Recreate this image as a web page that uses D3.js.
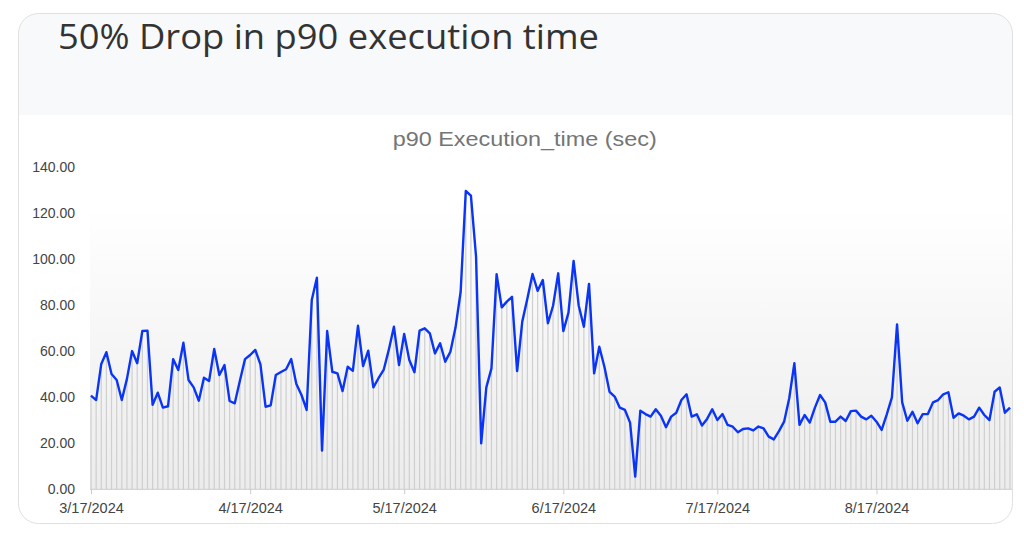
<!DOCTYPE html>
<html>
<head>
<meta charset="utf-8">
<script src="https://cdn.jsdelivr.net/npm/d3@7"></script>
<style>
  html, body { margin: 0; padding: 0; background: #ffffff; }
  svg { display: block; }
</style>
</head>
<body>
<svg id="chart" width="1024" height="534"></svg>
<script>
// daily p90 execution time (sec), 3/17/2024 .. 9/12/2024
var startDay = "2024-03-17"
var execTime = [
  40.7, 38.8, 54.5, 59.6, 50.1, 47.5, 38.8, 48.0, 60.1, 54.8,
  68.8, 69.0, 36.7, 42.0, 35.5, 36.1, 56.6, 51.9, 63.7, 47.5,
  44.3, 38.5, 48.5, 47.1, 61.0, 49.7, 54.0, 38.4, 37.4, 47.2,
  56.6, 58.4, 60.6, 54.3, 35.9, 36.5, 49.7, 51.0, 52.2, 56.6,
  45.8, 41.0, 34.5, 82.3, 92.0, 16.8, 68.8, 51.1, 50.4, 42.7,
  53.3, 51.5, 71.1, 53.6, 60.3, 44.3, 48.3, 51.9, 60.6, 70.7,
  54.0, 67.5, 56.2, 50.9, 69.0, 70.0, 67.8, 59.1, 63.5, 55.5,
  59.8, 70.3, 85.9, 129.7, 127.7, 101.1, 20.0, 44.3, 52.6, 93.5,
  79.1, 81.6, 83.7, 51.4, 72.9, 83.0, 93.6, 86.3, 91.0, 72.2,
  79.8, 93.9, 68.8, 76.8, 99.3, 79.8, 70.7, 89.3, 50.4, 62.0,
  53.3, 42.4, 40.3, 35.5, 34.5, 29.0, 5.5, 34.2, 32.7, 31.6,
  34.8, 32.0, 27.0, 31.6, 33.3, 38.8, 41.3, 31.6, 32.6, 27.7,
  30.6, 34.8, 30.1, 32.7, 28.0, 27.2, 24.8, 26.2, 26.5, 25.6,
  27.3, 26.5, 22.9, 21.7, 25.3, 29.4, 39.6, 54.8, 28.0, 32.3,
  29.0, 35.5, 41.0, 37.8, 29.4, 29.4, 31.6, 29.7, 34.0, 34.2,
  31.6, 30.4, 32.0, 29.4, 25.8, 32.6, 40.0, 71.7, 37.8, 29.8,
  33.7, 28.7, 32.7, 32.7, 37.8, 38.8, 41.3, 42.2, 31.1, 33.0,
  32.0, 30.4, 31.6, 35.5, 32.3, 30.1, 42.4, 44.3, 33.3, 35.5
]
var yTicks = [0, 20, 40, 60, 80, 100, 120, 140]
var xTickLabels = ["3/17/2024", "4/17/2024", "5/17/2024", "6/17/2024", "7/17/2024", "8/17/2024"]

var pageTitle = "50% Drop in p90 execution time"
var chartTitle = "p90 Execution_time (sec)"

var parseDay = d3.timeParse("%Y-%m-%d")
var parseLabel = d3.timeParse("%m/%d/%Y")
var first = parseDay(startDay)
var days = execTime.map(function(d, i) { return d3.timeDay.offset(first, i) })
var points = execTime.map(function(d, i) { return [days[i], d] })

var svg = d3.select("#chart")

var xleft = 91, xright = 1010
var ytop = 167.3, ybottom = 489.3

var x = d3.scaleTime()
    .domain([days[0], days[days.length - 1]])
    .range([xleft, xright])

var y = d3.scaleLinear()
    .domain([0, 140])
    .range([ybottom, ytop])

// card
var defs = svg.append("defs")
defs.append("clipPath").attr("id", "cardClip")
  .append("rect")
    .attr("x", 18.5).attr("y", 13.5)
    .attr("width", 994).attr("height", 510)
    .attr("rx", 20).attr("ry", 20)

var grad = defs.append("linearGradient")
    .attr("id", "plotBg")
    .attr("x1", 0).attr("y1", 0).attr("x2", 0).attr("y2", 1)
grad.append("stop").attr("offset", "0%").attr("stop-color", "#ffffff")
grad.append("stop").attr("offset", "100%").attr("stop-color", "#ececec")

var card = svg.append("g").attr("clip-path", "url(#cardClip)")
card.append("rect")
    .attr("x", 18.5).attr("y", 13.5)
    .attr("width", 994).attr("height", 510)
    .attr("fill", "#ffffff")
card.append("rect")
    .attr("x", 18.5).attr("y", 13.5)
    .attr("width", 994).attr("height", 101.5)
    .attr("fill", "#f8f9fa")

// plot background
card.append("rect")
    .attr("x", xleft - 1)
    .attr("y", y(123))
    .attr("width", xright - xleft + 4)
    .attr("height", ybottom - y(123))
    .attr("fill", "url(#plotBg)")

// thin columns under the line
card.append("g")
    .attr("id", "columns")
  .selectAll("rect")
  .data(points)
  .enter()
  .append("rect")
    .attr("x", function(d) { return x(d[0]) - 0.6 })
    .attr("y", function(d) { return y(d[1]) })
    .attr("width", 1.2)
    .attr("height", function(d) { return ybottom - y(d[1]) })
    .attr("fill", "#cfcfcf")

// x axis
var xAxis = d3.axisBottom(x)
    .tickValues(xTickLabels.map(function(s) { return parseLabel(s) }))
    .tickFormat(d3.timeFormat("%-m/%-d/%Y"))
    .tickSize(5)
    .tickSizeOuter(0)

var xg = card.append("g")
    .attr("transform", "translate(0," + ybottom + ")")
    .call(xAxis)
xg.select(".domain")
    .attr("d", "M" + (xleft - 1) + ",0H" + (xright + 4))
    .attr("stroke", "#cccccc")
xg.selectAll(".tick line").attr("stroke", "#cccccc")
xg.selectAll(".tick text")
    .attr("dy", "1.05em")
    .attr("fill", "#444444")
    .attr("font-family", "Liberation Sans, Arial, sans-serif")
    .attr("font-size", "14.5px")

// y labels
var yAxis = d3.axisLeft(y)
    .tickValues(yTicks)
    .tickFormat(d3.format(".2f"))
    .tickSize(0)
    .tickPadding(0)

var yg = card.append("g")
    .attr("transform", "translate(75,0)")
    .call(yAxis)
yg.select(".domain").remove()
yg.selectAll(".tick text")
    .attr("fill", "#444444")
    .attr("font-family", "Liberation Sans, Arial, sans-serif")
    .attr("font-size", "14px")

// line
var lineFunction = d3.line()
    .x(function(d) { return x(d[0]) })
    .y(function(d) { return y(d[1]) })

card.append("path")
    .datum(points)
    .attr("d", lineFunction)
    .attr("fill", "none")
    .attr("stroke", "#0a35f7")
    .attr("stroke-width", 2.4)
    .attr("stroke-linejoin", "round")

// titles
svg.append("text")
    .attr("x", 58)
    .attr("y", 49)
    .attr("fill", "#333333")
    .attr("font-family", "'Open Sans', sans-serif")
    .attr("font-size", "35px")
    .attr("textLength", 541)
    .attr("lengthAdjust", "spacingAndGlyphs")
    .text(pageTitle)

svg.append("text")
    .attr("x", 392.7)
    .attr("y", 145.7)
    .attr("fill", "#757575")
    .attr("font-family", "Liberation Sans, Arial, sans-serif")
    .attr("font-size", "21px")
    .attr("textLength", 264)
    .attr("lengthAdjust", "spacingAndGlyphs")
    .text(chartTitle)

// card border
svg.append("rect")
    .attr("x", 18.5).attr("y", 13.5)
    .attr("width", 994).attr("height", 510)
    .attr("rx", 20).attr("ry", 20)
    .attr("fill", "none")
    .attr("stroke", "#e0e0e0")
</script>
</body>
</html>
